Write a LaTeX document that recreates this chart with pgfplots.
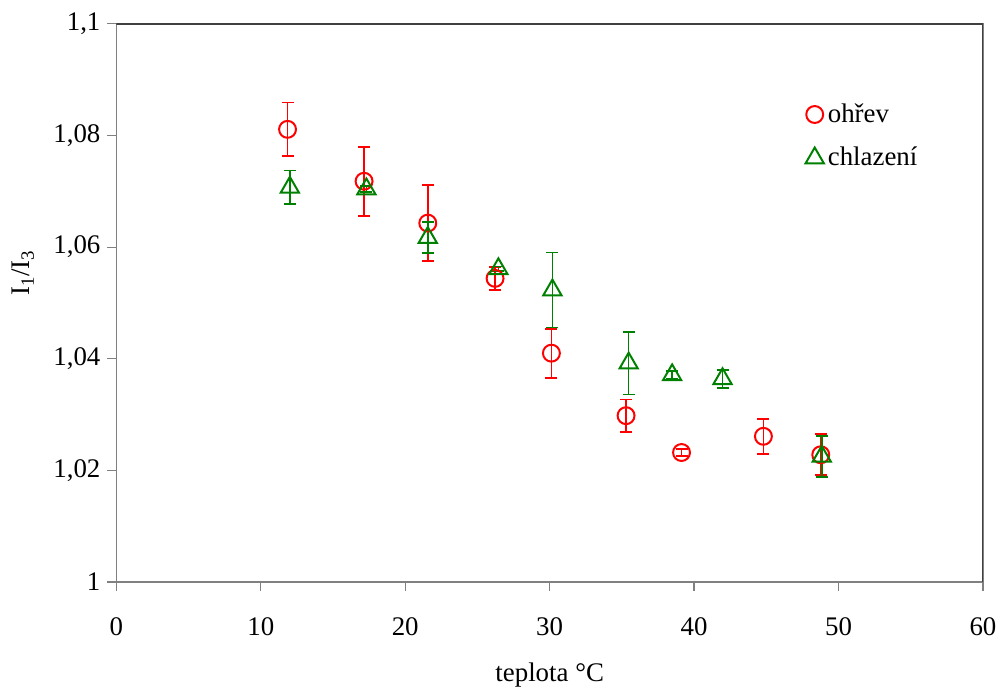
\documentclass[border=0pt]{standalone}
\usepackage{pgfplots}
\pgfplotsset{compat=1.18}
\usepackage{fontspec}
\setmainfont{Liberation Serif}
\definecolor{exgreen}{RGB}{0,128,0}
\definecolor{axgray}{RGB}{128,128,128}
\newcommand\chartfont{\fontsize{13.5}{16}\selectfont}

\begin{document}
\begin{tikzpicture}
\begin{axis}[
    name=ax,
    scale only axis,
    width=435.5pt, height=280.5pt,
    xmin=0, xmax=60, ymin=1, ymax=1.1,
    xtick={0,10,20,30,40,50,60},
    ytick={1,1.02,1.04,1.06,1.08,1.1},
    tick pos=left, tick align=outside,
    major tick length=4.5pt,
    tick style={axgray, line width=0.6pt},
    axis line style={axgray, line width=0.6pt},
    /pgf/number format/use comma,
    /pgf/number format/assume math mode=true,
    tick label style={font=\chartfont, black},
    xticklabel style={yshift=-10pt},
    label style={font=\chartfont},
    xlabel={teplota °C},
    ylabel={I\textsubscript{1}/I\textsubscript{3}},
    xlabel style={at={(axis description cs:0.5,0)}, anchor=base, yshift=-50pt},
    ylabel style={at={(axis description cs:0,0.554)}, anchor=center, yshift=47pt},
    legend style={draw=none, font=\chartfont, at={(rel axis cs:0.788,0.872)},
        anchor=north west, row sep=7pt},
    legend cell align=left,
    error bars/y dir=both, error bars/y explicit,
]
\addplot[only marks, mark=o, mark size=4.25pt, color=red, mark options={line width=1pt},
    error bars/error bar style={draw=red, line width=0.9pt},
    error bars/error mark options={draw=red, line width=0.9pt, mark size=3pt, rotate=90}]
  coordinates {
    (11.85,1.0811) +- (0,0.0048)
    (17.15,1.0718) +- (0,0.0062)
    (21.56,1.0643) +- (0,0.0068)
    (26.22,1.0544) +- (0,0.0021)
    (30.12,1.0410) +- (0,0.0044)
    (35.29,1.0298) +- (0,0.0029)
    (39.13,1.0232) +- (0,0.0006)
    (44.80,1.0261) +- (0,0.0031)
    (48.77,1.0228) +- (0,0.0037)
  };
\addlegendentry{ohřev}
\addplot[only marks, mark=triangle, mark size=5.3pt, color=exgreen, mark options={line width=1pt},
    error bars/error bar style={draw=exgreen, line width=0.8pt},
    error bars/error mark options={draw=exgreen, line width=0.8pt, mark size=3pt, rotate=90}]
  coordinates {
    (12.01,1.0707) +- (0,0.0030)
    (17.31,1.0704) +- (0,0.0005)
    (21.56,1.0617) +- (0,0.0028)
    (26.45,1.0561) +- (0,0.0004)
    (30.19,1.0523) +- (0,0.0067)
    (35.47,1.0392) +- (0,0.0056)
    (38.48,1.0371) +- (0,0.0007)
    (41.97,1.0364) +- (0,0.0016)
    (48.84,1.0225) +- (0,0.0037)
  };
\addlegendentry{chlazení}
\draw[black!75, line width=0.8pt] (rel axis cs:0,1) -- (rel axis cs:1,1) -- (rel axis cs:1,0);
\end{axis}
\path (ax.south west) ++(-58.5pt,-53pt);
\path (ax.north east) ++(7.5pt,12pt);
\end{tikzpicture}
\end{document}
